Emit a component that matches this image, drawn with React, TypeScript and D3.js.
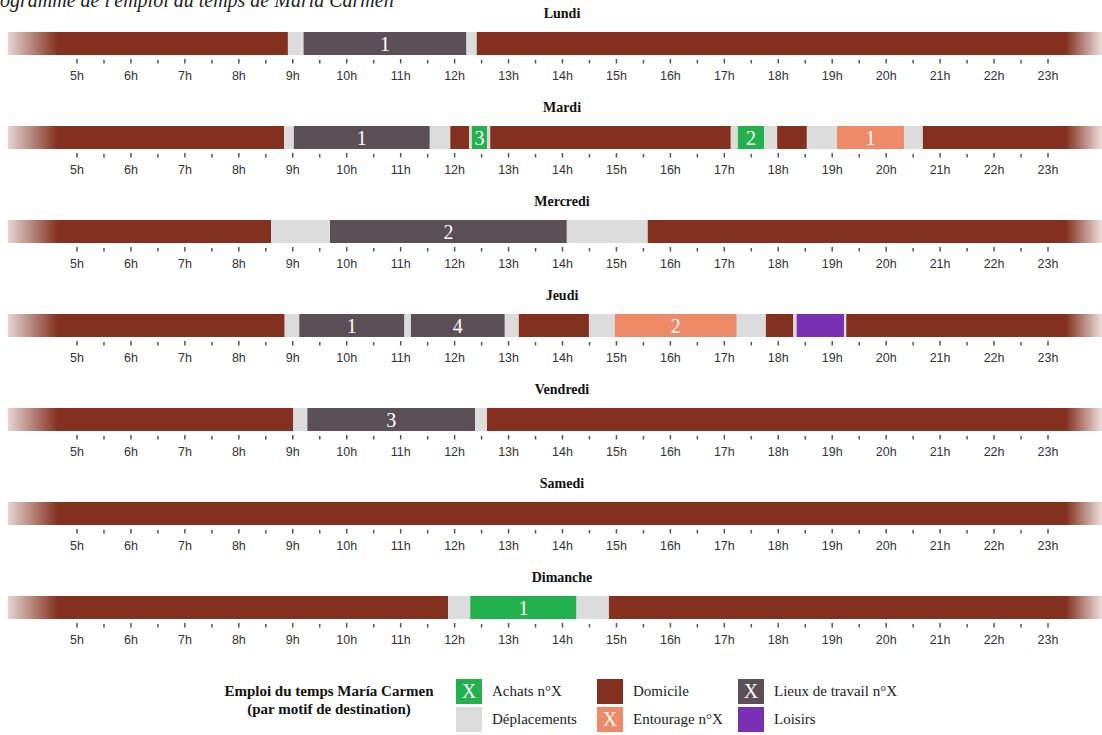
import React from 'react';
import * as d3 from 'd3';

// hours shown on the axis
const HOURS = d3.range(5, 24);
const HALF_TICKS = d3.range(5, 23.01, 0.5);
const DAY_START = 3.72;
const DAY_END = 24;
const FADE_LEFT_END = 4.65;
const FADE_RIGHT_START = 23.33;

const DAYS = ['Lundi', 'Mardi', 'Mercredi', 'Jeudi', 'Vendredi', 'Samedi', 'Dimanche'];

type Seg = [number, number, string, string?];

// [début, fin, motif, n°]
const lundi: Seg[] = [
  [3.72, 8.91, 'dom'], [8.91, 9.2, 'dep'], [9.2, 12.22, 'work', '1'],
  [12.22, 12.41, 'dep'], [12.41, 24, 'dom'],
];
const mardi: Seg[] = [
  [3.72, 8.84, 'dom'], [8.84, 9.02, 'dep'], [9.02, 11.54, 'work', '1'],
  [11.54, 11.92, 'dep'], [11.92, 12.27, 'dom'], [12.27, 12.32, 'dep'],
  [12.32, 12.6, 'achats', '3'], [12.6, 12.66, 'dep'], [12.66, 17.12, 'dom'],
  [17.12, 17.25, 'dep'], [17.25, 17.74, 'achats', '2'], [17.74, 17.98, 'dep'],
  [17.98, 18.53, 'dom'], [18.53, 19.09, 'dep'], [19.09, 20.33, 'entourage', '1'],
  [20.33, 20.68, 'dep'], [20.68, 24, 'dom'],
];
const mercredi: Seg[] = [
  [3.72, 8.6, 'dom'], [8.6, 9.69, 'dep'], [9.69, 14.08, 'work', '2'],
  [14.08, 15.58, 'dep'], [15.58, 24, 'dom'],
];
const jeudi: Seg[] = [
  [3.72, 8.85, 'dom'], [8.85, 9.12, 'dep'], [9.12, 11.07, 'work', '1'],
  [11.07, 11.19, 'dep'], [11.19, 12.93, 'work', '4'], [12.93, 13.19, 'dep'],
  [13.19, 14.49, 'dom'], [14.49, 14.97, 'dep'], [14.97, 17.23, 'entourage', '2'],
  [17.23, 17.77, 'dep'], [17.77, 18.28, 'dom'], [18.28, 18.34, 'dep'],
  [18.34, 19.22, 'loisirs'], [19.22, 19.26, 'dep'], [19.26, 24, 'dom'],
];
const vendredi: Seg[] = [
  [3.72, 9.01, 'dom'], [9.01, 9.27, 'dep'], [9.27, 12.38, 'work', '3'],
  [12.38, 12.6, 'dep'], [12.6, 24, 'dom'],
];
const samedi: Seg[] = [[3.72, 24, 'dom']];
const dimanche: Seg[] = [
  [3.72, 11.88, 'dom'], [11.88, 12.29, 'dep'], [12.29, 14.26, 'achats', '1'],
  [14.26, 14.86, 'dep'], [14.86, 24, 'dom'],
];

const SCHEDULE = [lundi, mardi, mercredi, jeudi, vendredi, samedi, dimanche];

const COLORS: Record<string, string> = {
  achats: '#22b14c',
  dep: '#dddcdc',
  dom: '#83301f',
  entourage: '#ee8a68',
  work: '#5a5055',
  loisirs: '#7a30b4',
};

// legend: [motif, libellé, avec X]
const LEGEND: [string, string, boolean][] = [
  ['achats', 'Achats n°X', true],
  ['dep', 'Déplacements', false],
  ['dom', 'Domicile', false],
  ['entourage', 'Entourage n°X', true],
  ['work', 'Lieux de travail n°X', true],
  ['loisirs', 'Loisirs', false],
];

const W = 1102;
const H = 735;
const x = d3.scaleLinear().domain([5, 23]).range([77, 1048]);
const rowY = d3.scaleLinear().domain([0, 1]).range([32, 126]);
const BAR_H = 23;
const SERIF = '"Liberation Serif", "Times New Roman", serif';
const SANS = '"Liberation Sans", Arial, sans-serif';

export default function App() {
  return (
    <svg width={W} height={H} style={{ position: 'absolute', left: 0, top: 0, background: '#fff' }}>
      <defs>
        <linearGradient id="fadeL" x1="0" x2="1" y1="0" y2="0">
          <stop offset="0" stopColor="#fff" stopOpacity={0.8} />
          <stop offset="1" stopColor="#fff" stopOpacity={0} />
        </linearGradient>
        <linearGradient id="fadeR" x1="0" x2="1" y1="0" y2="0">
          <stop offset="0" stopColor="#fff" stopOpacity={0} />
          <stop offset="1" stopColor="#fff" stopOpacity={0.85} />
        </linearGradient>
      </defs>

      <text x={0} y={7} textAnchor="end" fontFamily={SERIF} fontStyle="italic" fontSize={20} fill="#222">Chron</text>
      <text x={0} y={7} fontFamily={SERIF} fontStyle="italic" fontSize={20} fill="#222">ogramme de l'emploi du temps de María Carmen</text>

      {DAYS.map((day, i) => {
        const top = rowY(i);
        return (
          <g key={day}>
            <text x={562} y={top - 14} textAnchor="middle" fontFamily={SERIF} fontWeight="bold" fontSize={14} fill="#111">{day}</text>
            {SCHEDULE[i].map(([a, b, type, n], j) => (
              <g key={j}>
                <rect x={x(a)} y={top} width={Math.max(0, x(b) - x(a))} height={BAR_H} fill={COLORS[type]} />
                {n && (
                  <text x={(x(a) + x(b)) / 2} y={top + 19} textAnchor="middle" fontFamily={SERIF} fontSize={20} fill="#fff">{n}</text>
                )}
              </g>
            ))}
            <rect x={x(DAY_START)} y={top} width={x(FADE_LEFT_END) - x(DAY_START)} height={BAR_H} fill="url(#fadeL)" />
            <rect x={x(FADE_RIGHT_START)} y={top} width={x(DAY_END) - x(FADE_RIGHT_START)} height={BAR_H} fill="url(#fadeR)" />
            {HALF_TICKS.map(t => {
              const major = Number.isInteger(t);
              return (
                <line key={t} x1={x(t)} x2={x(t)} y1={top + (major ? 27 : 28)} y2={top + 31.5}
                  stroke="#555" strokeWidth={1.5} />
              );
            })}
            {HOURS.map(h => (
              <text key={h} x={x(h)} y={top + 48} textAnchor="middle" fontFamily={SANS} fontSize={12.5} fill="#333">{h}h</text>
            ))}
          </g>
        );
      })}

      <g fontFamily={SERIF}>
        <text x={329} y={696} textAnchor="middle" fontWeight="bold" fontSize={15} fill="#111">Emploi du temps María Carmen</text>
        <text x={329} y={714} textAnchor="middle" fontWeight="bold" fontSize={15} fill="#111">(par motif de destination)</text>
        {LEGEND.map(([type, label, withX], i) => {
          const col = Math.floor(i / 2);
          const row = i % 2;
          const lx = 456 + col * 141;
          const ly = 679 + row * 28;
          return (
            <g key={type}>
              <rect x={lx} y={ly} width={26} height={25} fill={COLORS[type]} />
              {withX && (
                <text x={lx + 13} y={ly + 19} textAnchor="middle" fontSize={20} fill="#fff">X</text>
              )}
              <text x={lx + 36} y={ly + 17} fontSize={15} fill="#222">{label}</text>
            </g>
          );
        })}
      </g>
    </svg>
  );
}
